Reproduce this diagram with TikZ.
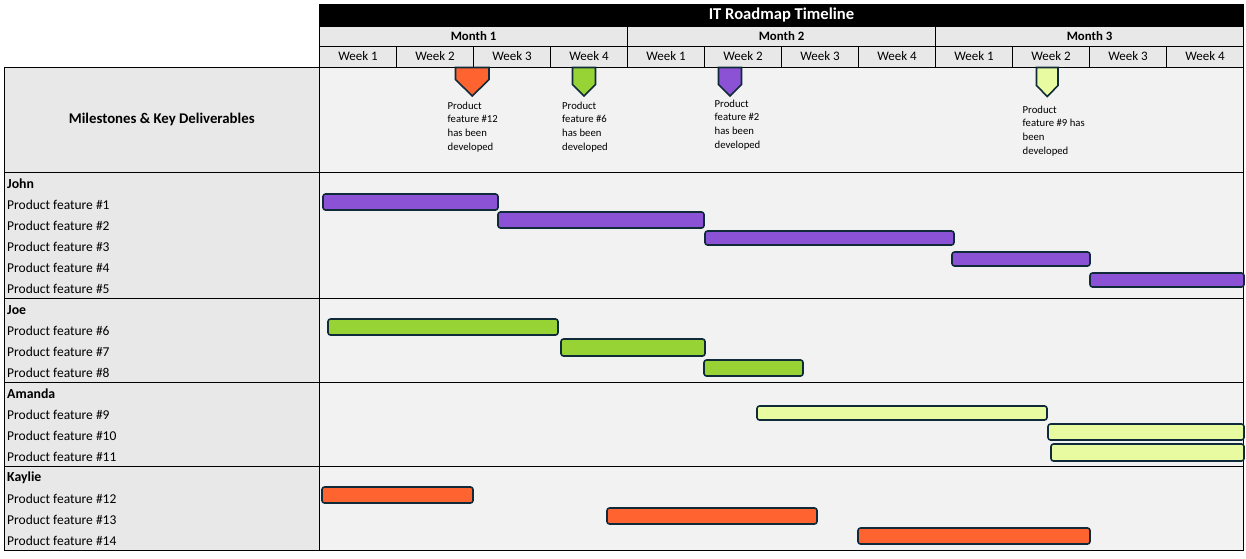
\documentclass[tikz,border=0pt]{standalone}
\usepackage{fontspec}
\setmainfont{Carlito}
\definecolor{hdrgray}{HTML}{E8E8E8}
\definecolor{chartbg}{HTML}{F2F2F2}
\definecolor{barline}{HTML}{0F2B3A}
\definecolor{cpur}{HTML}{8C52D6}
\definecolor{cgrn}{HTML}{97D334}
\definecolor{clime}{HTML}{E9FBA0}
\definecolor{corg}{HTML}{FF6430}
\tikzset{
  cell/.style={draw=black, line width=0.9pt, fill=hdrgray, inner sep=0pt, outer sep=0pt, font=\fontsize{13}{15}\selectfont},
  area/.style={draw=black, line width=0.9pt, fill=chartbg, inner sep=0pt, outer sep=0pt},
  rowlbl/.style={anchor=west, inner sep=0pt, font=\fontsize{13.5}{15}\selectfont},
  namelbl/.style={anchor=west, inner sep=0pt, font=\fontsize{13.8}{15}\selectfont\bfseries},
  barstyle/.style={draw=barline, line width=1.6pt, rounded corners=2.5pt},
  msstyle/.style={draw=barline, line width=1.6pt, line join=miter},
  mstext/.style={anchor=north west, inner sep=0pt, align=left, font=\fontsize{10.7}{13.7}\selectfont}
}
\begin{document}
\begin{tikzpicture}[x=1pt,y=-1pt]
\useasboundingbox (0,0) rectangle (1246,558);
\fill[white] (0,0) rectangle (1246,558);

% title
\node[fill=black, draw=black, inner sep=0pt, outer sep=0pt, minimum width=924pt, minimum height=22pt,
      text=white, font=\fontsize{16.6}{18}\selectfont\bfseries] (title) at (781.5,15) {IT Roadmap Timeline};

% months
\foreach \j in {0,1,2}{
  \pgfmathtruncatemacro\m{\j+1}
  \node[cell, minimum width=308pt, minimum height=20pt, font=\fontsize{12.8}{14}\selectfont\bfseries] (mon\j) at (473.5+308*\j,36) {Month \m};
}
% weeks
\foreach \i in {0,...,11}{
  \pgfmathtruncatemacro\w{mod(\i,4)+1}
  \node[cell, minimum width=77pt, minimum height=21pt] (wk\i) at (358+77*\i,56.5) {Week \w};
}

% milestone row
\node[cell, minimum width=315.5pt, minimum height=105pt, font=\fontsize{14.8}{16}\selectfont\bfseries] (msl) at (161.75,119.5) {Milestones \& Key Deliverables};
\node[area, minimum width=924pt, minimum height=105pt] (msr) at (781.5,119.5) {};

% sections
\node[cell, minimum width=315.5pt, minimum height=126pt] (johnL) at (161.75,235) {};
\node[area, minimum width=924pt, minimum height=126pt] (johnR) at (781.5,235) {};
\node[cell, minimum width=315.5pt, minimum height=84pt] (joeL) at (161.75,340) {};
\node[area, minimum width=924pt, minimum height=84pt] (joeR) at (781.5,340) {};
\node[cell, minimum width=315.5pt, minimum height=84pt] (amaL) at (161.75,424) {};
\node[area, minimum width=924pt, minimum height=84pt] (amaR) at (781.5,424) {};
\node[cell, minimum width=315.5pt, minimum height=84pt] (kayL) at (161.75,508) {};
\node[area, minimum width=924pt, minimum height=84pt] (kayR) at (781.5,508) {};

% labels
\node[namelbl] (nJohn) at (7,184) {John};
\node[rowlbl] (r1) at (7,205) {Product feature \#1};
\node[rowlbl] (r2) at (7,226) {Product feature \#2};
\node[rowlbl] (r3) at (7,247) {Product feature \#3};
\node[rowlbl] (r4) at (7,268) {Product feature \#4};
\node[rowlbl] (r5) at (7,289) {Product feature \#5};
\node[namelbl] (nJoe) at (7,310) {Joe};
\node[rowlbl] (r6) at (7,331) {Product feature \#6};
\node[rowlbl] (r7) at (7,352) {Product feature \#7};
\node[rowlbl] (r8) at (7,373) {Product feature \#8};
\node[namelbl] (nAmanda) at (7,394) {Amanda};
\node[rowlbl] (r9) at (7,415) {Product feature \#9};
\node[rowlbl] (r10) at (7,436) {Product feature \#10};
\node[rowlbl] (r11) at (7,457) {Product feature \#11};
\node[namelbl] (nKaylie) at (7,478) {Kaylie};
\node[rowlbl] (r12) at (7,499) {Product feature \#12};
\node[rowlbl] (r13) at (7,520) {Product feature \#13};
\node[rowlbl] (r14) at (7,541) {Product feature \#14};

% bars John
\draw[barstyle, fill=cpur] (323,194) rectangle (498,210);
\draw[barstyle, fill=cpur] (498,212) rectangle (704,228);
\draw[barstyle, fill=cpur] (705,231) rectangle (954,245);
\draw[barstyle, fill=cpur] (952,252) rectangle (1090,266);
\draw[barstyle, fill=cpur] (1090,273) rectangle (1244,287);
% bars Joe
\draw[barstyle, fill=cgrn] (328,319) rectangle (558,335);
\draw[barstyle, fill=cgrn] (561,339) rectangle (705,356);
\draw[barstyle, fill=cgrn] (704,360) rectangle (803,376);
% bars Amanda
\draw[barstyle, fill=clime] (757,406) rectangle (1047,420);
\draw[barstyle, fill=clime] (1048,424) rectangle (1244,440);
\draw[barstyle, fill=clime] (1051,444) rectangle (1244,461);
% bars Kaylie
\draw[barstyle, fill=corg] (322,487) rectangle (473,503);
\draw[barstyle, fill=corg] (607,508) rectangle (817,524);
\draw[barstyle, fill=corg] (858,528) rectangle (1090,544);

% milestones
\draw[msstyle, fill=corg] (455.5,67.5) -- (489,67.5) -- (489,79.5) -- (472.25,96) -- (455.5,79.5) -- cycle;
\draw[msstyle, fill=cgrn] (572.5,67.5) -- (595.5,67.5) -- (595.5,84.5) -- (584,96) -- (572.5,84.5) -- cycle;
\draw[msstyle, fill=cpur] (718.5,67.5) -- (741.5,67.5) -- (741.5,84.5) -- (730,96) -- (718.5,84.5) -- cycle;
\draw[msstyle, fill=clime] (1036.5,67.5) -- (1058,67.5) -- (1058,85.5) -- (1047.25,96.5) -- (1036.5,85.5) -- cycle;

\node[mstext] (m12) at (447.5,101.5) {Product\\feature \#12\\has been\\developed};
\node[mstext] (m6) at (562,101.5) {Product\\feature \#6\\has been\\developed};
\node[mstext] (m2) at (714.5,99.5) {Product\\feature \#2\\has been\\developed};
\node[mstext] (m9) at (1022.5,105.5) {Product\\feature \#9 has\\been\\developed};
\end{tikzpicture}
\end{document}
